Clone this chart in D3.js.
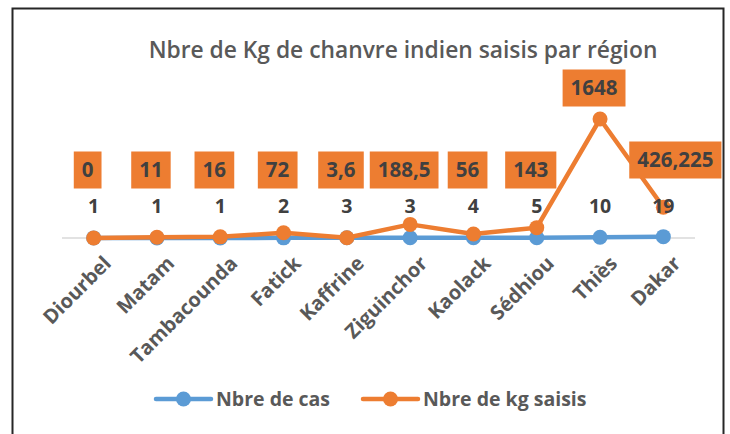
<!DOCTYPE html>
<html>
<head>
<meta charset="utf-8">
<script src="https://cdn.jsdelivr.net/npm/d3@7"></script>
<style>
  body { margin: 0; background: #fff; }
  svg { display: block; font-family: "Open Sans", "Liberation Sans", sans-serif; }
</style>
</head>
<body>
<div id="chart"></div>
<script>
// regions along the x axis
const regions = ["Diourbel", "Matam", "Tambacounda", "Fatick", "Kaffrine",
    "Ziguinchor", "Kaolack", "Sédhiou", "Thiès", "Dakar"];

// number of cases per region
const nbreCas = [1, 1, 1, 2, 3, 3, 4, 5, 10, 19];

// kg seized per region
const nbreKg = [0, 11, 16, 72, 3.6, 188.5, 56, 143, 1648, 426.225];

const seriesNames = ["Nbre de cas", "Nbre de kg saisis"];

const width = 730;
const height = 434;
const blue = "#5B9BD5";
const orange = "#ED7D31";
const textDark = "#404040";
const textGray = "#595959";

const fmt = (v) => String(v).replace(".", ",");

const svg = d3.select("#chart").append("svg")
    .attr("width", width)
    .attr("height", height);

// chart frame
svg.append("rect")
    .attr("x", 12.5).attr("y", 8.5)
    .attr("width", 711).attr("height", 440)
    .attr("fill", "#fff")
    .attr("stroke", "#262626")
    .attr("stroke-width", 2);

svg.append("text")
    .attr("x", 403).attr("y", 58)
    .attr("text-anchor", "middle")
    .attr("font-size", 22.8)
    .attr("font-weight", 600)
    .attr("fill", textGray)
    .text("Nbre de Kg de chanvre indien saisis par région");

const x = d3.scaleBand().domain(regions).range([62, 695]).padding(0);
const y = d3.scaleLinear().domain([0, 1648]).range([238, 119]);
const cx = (d) => x(d) + x.bandwidth() / 2;

// baseline
svg.append("line")
    .attr("x1", 62).attr("x2", 695)
    .attr("y1", y(0)).attr("y2", y(0))
    .attr("stroke", "#D9D9D9")
    .attr("stroke-width", 1.5);

// category labels
svg.append("g")
    .selectAll("text")
    .data(regions)
    .join("text")
    .attr("transform", (d) => `translate(${cx(d) + 8},${y(0) + 16}) rotate(-45)`)
    .attr("text-anchor", "end")
    .attr("dy", "0.75em")
    .attr("font-size", 20)
    .attr("font-weight", 700)
    .attr("fill", textGray)
    .text((d) => d);

const line = d3.line()
    .x((d, i) => cx(regions[i]))
    .y((d) => y(d));

const drawSeries = (values, color) => {
    svg.append("path")
        .datum(values)
        .attr("d", line)
        .attr("fill", "none")
        .attr("stroke", color)
        .attr("stroke-width", 4.5)
        .attr("stroke-linejoin", "round");

    svg.append("g")
        .selectAll("circle")
        .data(values)
        .join("circle")
        .attr("cx", (d, i) => cx(regions[i]))
        .attr("cy", (d) => y(d))
        .attr("r", 7.5)
        .attr("fill", color);
};

drawSeries(nbreCas, blue);
drawSeries(nbreKg, orange);

// labels of the cases series
svg.append("g")
    .selectAll("text")
    .data(nbreCas)
    .join("text")
    .attr("x", (d, i) => cx(regions[i]))
    .attr("y", 213)
    .attr("text-anchor", "middle")
    .attr("font-size", 19.5)
    .attr("font-weight", 700)
    .attr("fill", textDark)
    .text((d) => fmt(d));

// labels of the kg series, in orange boxes
const kgLabels = svg.append("g")
    .selectAll("g")
    .data(nbreKg)
    .join("g")
    .attr("transform", (d, i) => {
        let lx = cx(regions[i]) - 6;
        let ly = Math.min(170, y(d) - 31);
        if (i === regions.length - 1) {
            lx = cx(regions[i]) + 12;
            ly = 160;
        }
        return `translate(${lx},${ly})`;
    });

kgLabels.append("text")
    .attr("text-anchor", "middle")
    .attr("dy", "0.36em")
    .attr("font-size", 20.5)
    .attr("font-weight", 700)
    .attr("fill", textDark)
    .text((d) => fmt(d));

kgLabels.each(function () {
    const g = d3.select(this);
    const bb = g.select("text").node().getBBox();
    g.insert("rect", "text")
        .attr("x", bb.x - 8)
        .attr("y", -18.5)
        .attr("width", bb.width + 16)
        .attr("height", 37)
        .attr("fill", orange);
});

// legend
const legend = svg.append("g")
    .selectAll("g")
    .data(seriesNames)
    .join("g")
    .attr("transform", (d, i) => `translate(${i === 0 ? 156 : 363},399)`);

legend.append("line")
    .attr("x1", 0).attr("x2", 55)
    .attr("stroke", (d, i) => (i === 0 ? blue : orange))
    .attr("stroke-width", 4.5)
    .attr("stroke-linecap", "round");

legend.append("circle")
    .attr("cx", 27.5)
    .attr("r", 7.5)
    .attr("fill", (d, i) => (i === 0 ? blue : orange));

legend.append("text")
    .attr("x", 60)
    .attr("dy", "0.36em")
    .attr("font-size", 19.5)
    .attr("font-weight", 700)
    .attr("fill", textGray)
    .text((d) => d);
</script>
</body>
</html>
